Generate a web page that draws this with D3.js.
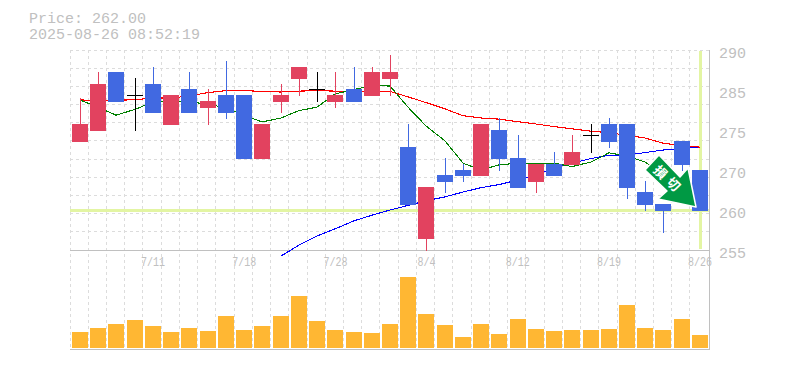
<!DOCTYPE html>
<html>
<head>
<meta charset="utf-8">
<script src="https://cdn.jsdelivr.net/npm/d3@7/dist/d3.min.js"></script>
<style>
  html, body { margin: 0; padding: 0; background: #fff; }
  svg { display: block; }
</style>
</head>
<body>
<div id="chart"></div>
<script>
const titleLines = ["Price: 262.00", "2025-08-26 08:52:19"];

const opens  = [274,276,286,282,284,277,283,280,282,282,271,281,285,283,281,283,282,285,273,257,268,269,268,276,271,267,270,270,275,277,277,265,263,274,269];
const closes = [277,284,281,282,279,282,279,281,279,271,277,282,287,283,282,281,286,286,263,266,267,268,277,271,266,270,268,272,275,274,266,263,262,270,262];
const highs  = [281.5,286,286,285,287,282,286,283,288,282,277,284,287,286,286,287,287,289,277,266,271,270,277,278,275,270,272,275,277,278,277,267,263,274,269];
const lows   = [274,276,281,276,279,277,279,277,278,271,271,279,282,281,280,281,282,282,263,255,265,267,268,269,266,265,268,270,272,273,264,262,258,269,262];

const maShort = [281.25,280,278.6,279.6,280.9,281.2,280.9,280.55,279.85,278.6,277.4,278.1,279.4,280,282.3,283.1,283.75,283.7,280,276.7,274.1,270.2,269,269.9,270.2,270.2,270.2,269.6,270.4,272,271.45,270.4,268.4,267,264.6];
const maMid = [281.25,281.2,281.2,281.3,281.6,281.6,281.95,282.55,282.9,282.9,282.75,282.65,282.8,282.9,282.8,282.8,282.8,282.75,281.8,280.8,279.7,278.5,278.1,277.9,277.45,277.05,276.6,276.2,275.8,275.5,275.1,274.6,273.7,273.25,273];
const maLong = [null,null,null,null,null,null,null,null,null,null,null,253.95,255.85,257.45,258.7,260.1,261.1,262,262.8,263.6,264.3,265.15,265.9,266.45,267.25,268.2,269.35,270.2,271,271.6,271.6,272.05,272.5,272.75,273];

const volumes = [16,20,24,28,22,16,20,17,32,18,22,32,52,27,18,16,15,24,71,34,23,11,24,14,29,19,17,18,18,19,43,20,18,29,13];

const yTicks = [290,283,276,269,262,255];
const yLabels = ["290","285","275","270","260","255"];
const xTicks = [4,9,14,19,24,29,34];
const xLabels = ["7/11","7/18","7/28","8/4","8/12","8/19","8/26"];

const lastPrice = 262;
const signalText = "損切";

const GRAY = "#c0c0c0";
const GRID = "#dcdcdc";
const HILITE = "#e3f5a3";
const UP = "#e2425f";
const DOWN = "#4169e1";

let svg = d3.select("#chart")
  .append("svg")
  .attr("width", 785)
  .attr("height", 370);

let idx = d3.range(closes.length);

let x = d3.scaleBand().domain(idx).range([71, 709.2]);
let y = d3.scaleLinear().domain([255, 290]).range([250, 50]);
let v = d3.scaleLinear().domain([0, 100]).range([348, 248]);

// bars land on whole pixels, so the gaps go 2,2,3 like the original
let barLeft = i => Math.round(x(i) + 1);
let barMid = i => barLeft(i) + 8;
let py = p => Math.floor(y(p));

// title
svg.selectAll(".title")
  .data(titleLines)
  .enter()
  .append("text")
  .attr("class", "title")
  .attr("x", 29)
  .attr("y", (d, i) => 23 + i * 15.5)
  .attr("font-family", "'Liberation Mono', monospace")
  .attr("font-size", "15px")
  .attr("fill", GRAY)
  .text(d => d);

// grid
let grid = svg.append("g")
  .attr("stroke", GRID)
  .attr("stroke-dasharray", "3,3")
  .attr("shape-rendering", "crispEdges");

grid.selectAll(".v-grid")
  .data(idx)
  .enter()
  .append("line")
  .attr("class", "v-grid")
  .attr("x1", i => Math.floor(x(i) - 1) + 0.5)
  .attr("x2", i => Math.floor(x(i) - 1) + 0.5)
  .attr("y1", 50)
  .attr("y2", 350);

grid.selectAll(".h-grid")
  .data(d3.range(0, 11))
  .enter()
  .append("line")
  .attr("class", "h-grid")
  .attr("x1", 70)
  .attr("x2", 710)
  .attr("y1", i => Math.floor(50 + i * 200 / 11) + 0.5)
  .attr("y2", i => Math.floor(50 + i * 200 / 11) + 0.5);

// current price and current day
svg.append("rect")
  .attr("x", 70)
  .attr("y", y(lastPrice) - 1)
  .attr("width", 640)
  .attr("height", 3)
  .attr("fill", HILITE);

svg.append("rect")
  .attr("x", barMid(34) - 1)
  .attr("y", 51)
  .attr("width", 3)
  .attr("height", 198)
  .attr("fill", HILITE);

// frame
let frame = svg.append("g")
  .attr("stroke", GRAY)
  .attr("shape-rendering", "crispEdges");
frame.append("line").attr("x1", 70).attr("x2", 710).attr("y1", 250.5).attr("y2", 250.5);
frame.append("line").attr("x1", 70).attr("x2", 710).attr("y1", 349.5).attr("y2", 349.5);
frame.append("line").attr("x1", 709.5).attr("x2", 709.5).attr("y1", 50).attr("y2", 350);

// volume
svg.selectAll(".vol")
  .data(volumes)
  .enter()
  .append("rect")
  .attr("class", "vol")
  .attr("x", (d, i) => barLeft(i))
  .attr("y", d => v(d))
  .attr("width", 16)
  .attr("height", d => v(0) - v(d))
  .attr("fill", "#ffb733");

// moving averages
let line = d3.line()
  .defined(d => d != null)
  .x((d, i) => barMid(i))
  .y(d => y(d));

[[maLong, "#0000ff"], [maMid, "#ff0000"], [maShort, "#008000"]].forEach(s => {
  svg.append("path")
    .attr("d", line(s[0]))
    .attr("fill", "none")
    .attr("stroke", s[1])
    .attr("stroke-width", 1.1)
    .attr("shape-rendering", "crispEdges");
});

// candles
let candleColor = i => {
  if (closes[i] == opens[i]) return "#000";
  return closes[i] > opens[i] ? UP : DOWN;
};

svg.selectAll(".wick")
  .data(idx)
  .enter()
  .append("rect")
  .attr("class", "wick")
  .attr("x", i => barMid(i))
  .attr("y", i => py(highs[i]))
  .attr("width", 1)
  .attr("height", i => py(lows[i]) + 1 - py(highs[i]))
  .attr("fill", candleColor);

svg.selectAll(".body")
  .data(idx)
  .enter()
  .append("rect")
  .attr("class", "body")
  .attr("x", i => barLeft(i))
  .attr("y", i => py(Math.max(opens[i], closes[i])))
  .attr("width", 16)
  .attr("height", i => py(Math.min(opens[i], closes[i])) + 1 - py(Math.max(opens[i], closes[i])))
  .attr("fill", candleColor);

// axes
let yAxis = svg.append("g")
  .attr("transform", "translate(710,0)")
  .call(d3.axisRight(y)
    .tickValues(yTicks)
    .tickFormat((d, i) => yLabels[i])
    .tickSize(0)
    .tickPadding(9));
yAxis.select(".domain").remove();
yAxis.selectAll("text")
  .attr("dy", 7)
  .attr("font-family", "'Liberation Mono', monospace")
  .attr("font-size", "15px")
  .attr("fill", GRAY);

let xAxis = svg.append("g")
  .attr("transform", "translate(0,250)")
  .call(d3.axisBottom(x)
    .tickValues(xTicks)
    .tickFormat((d, i) => xLabels[i])
    .tickSize(0));
xAxis.select(".domain").remove();
// the original date labels are narrow and tall
xAxis.selectAll("text")
  .attr("y", 16)
  .attr("dy", 0)
  .attr("font-family", "'Liberation Mono', monospace")
  .attr("font-size", "12.5px")
  .attr("textLength", (d, i) => xLabels[i].length * 6)
  .attr("lengthAdjust", "spacingAndGlyphs")
  .attr("fill", GRAY);

// stop-loss arrow, hung off the last candle
let arrow = svg.append("g")
  .attr("transform", "translate(" + barMid(34) + "," + y(lastPrice) + ")");

arrow.append("polygon")
  .attr("points", "-41,-55 -55,-40 -33,-19 -42,-11 -4,-3 -12,-42 -20,-33")
  .attr("fill", "#009944")
  .attr("stroke", "#fff")
  .attr("stroke-width", 1.5)
  .attr("stroke-linejoin", "round");

arrow.selectAll(".sign")
  .data(signalText.split(""))
  .enter()
  .append("text")
  .attr("class", "sign")
  .attr("text-anchor", "middle")
  .attr("transform", (d, i) => "translate(" + (-43 + i * 13) + "," + (-34.5 + i * 12) + ") rotate(45)")
  .attr("font-family", "'Noto Sans CJK JP', sans-serif")
  .attr("font-weight", "bold")
  .attr("font-size", "13px")
  .attr("fill", "#fff")
  .text(d => d);
</script>
</body>
</html>
